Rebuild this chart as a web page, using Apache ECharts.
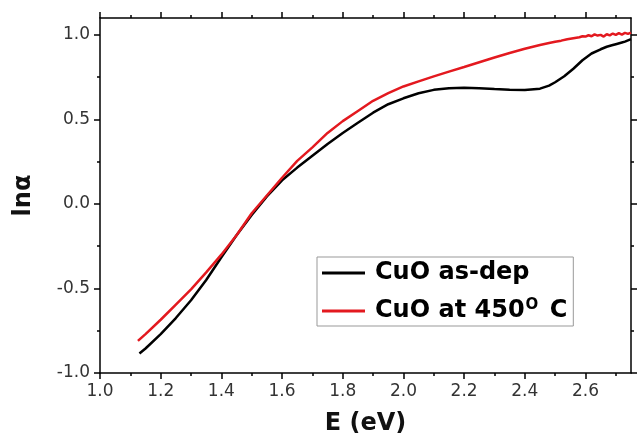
<!DOCTYPE html>
<html>
<head>
<meta charset="utf-8">
<script src="https://cdn.jsdelivr.net/npm/echarts@6/dist/echarts.min.js"></script>
<style>html,body{margin:0;padding:0;background:#fff}#c{width:637px;height:433px}</style>
</head>
<body>
<div id="c"></div>
<script>
// ---- data ----
const seriesNames = ['CuO as-dep', 'CuO at 450O C'];
const eAsDep = [1.13,1.15,1.20,1.25,1.30,1.35,1.40,1.45,1.50,1.55,1.60,1.65,1.70,1.75,1.80,1.85,1.90,1.95,2.00,2.05,2.10,2.15,2.20,2.25,2.30,2.35,2.40,2.45,2.48,2.50,2.53,2.56,2.59,2.62,2.65,2.67,2.69,2.70,2.72,2.73,2.75];
const lnAsDep = [-0.885,-0.855,-0.77,-0.675,-0.57,-0.45,-0.315,-0.185,-0.065,0.045,0.14,0.215,0.285,0.355,0.42,0.48,0.54,0.59,0.625,0.655,0.675,0.685,0.688,0.685,0.68,0.676,0.674,0.682,0.70,0.72,0.755,0.80,0.85,0.89,0.915,0.93,0.94,0.945,0.955,0.96,0.975];
const eAnnealed = [1.125,1.15,1.20,1.25,1.30,1.35,1.40,1.45,1.50,1.55,1.60,1.65,1.70,1.75,1.80,1.85,1.90,1.95,2.00,2.05,2.10,2.15,2.20,2.25,2.30,2.35,2.40,2.45,2.48,2.50,2.52,2.54,2.56,2.58,2.59,2.60,2.61,2.62,2.63,2.64,2.65,2.66,2.67,2.68,2.69,2.70,2.71,2.72,2.73,2.74,2.75];
const lnAnnealed = [-0.81,-0.77,-0.685,-0.595,-0.505,-0.405,-0.30,-0.185,-0.055,0.05,0.155,0.255,0.335,0.42,0.49,0.55,0.61,0.655,0.695,0.725,0.755,0.783,0.81,0.838,0.866,0.893,0.918,0.94,0.952,0.96,0.966,0.974,0.98,0.986,0.992,0.99,0.998,0.992,1.003,0.996,1.0,0.99,1.004,0.997,1.008,1.0,1.01,1.002,1.012,1.006,1.014];
const xMajorTicks = [1.0,1.2,1.4,1.6,1.8,2.0,2.2,2.4,2.6];
const xMinorTicks = [1.1,1.3,1.5,1.7,1.9,2.1,2.3,2.5,2.7];
const yMajorTicks = [-1.0,-0.5,0.0,0.5,1.0];
const yMinorTicks = [-0.75,-0.25,0.25,0.75];

// ---- chart ----
const FONT = 'DejaVu Sans';
const X_MIN = 1.0, X_MAX = 2.75, Y_MIN = -1.0, Y_MAX = 1.1;
const lineStyle = {color:'#000', width:1.5};

function axis(kind, position, ticks, len, opts) {
  const a = {
    type:'value', position: position,
    min: kind==='x'?X_MIN:Y_MIN, max: kind==='x'?X_MAX:Y_MAX,
    splitLine:{show:false},
    axisLine:{show: !!opts.line, onZero:false, lineStyle: lineStyle},
    axisTick:{show:true, inside:false, length:len, customValues: ticks, lineStyle: lineStyle},
    axisLabel:{show:false}
  };
  if (opts.labels) {
    a.axisLabel = {show:true, customValues: ticks, margin:10, color:'#333', fontFamily:FONT, fontSize:17,
      formatter: v => Number(v).toFixed(1)};
  }
  return a;
}

const xAxes = [
  axis('x','bottom',xMajorTicks,6,{line:true,labels:true}),
  axis('x','bottom',xMinorTicks,3,{}),
  axis('x','top',xMajorTicks,6,{line:true}),
  axis('x','top',xMinorTicks,3,{})
];
Object.assign(xAxes[0], {name:'E (eV)', nameLocation:'middle', nameGap:39,
  nameTextStyle:{fontFamily:FONT, fontWeight:'bold', fontSize:24, color:'#111'}});
const yAxes = [
  axis('y','left',yMajorTicks,6,{line:true,labels:true}),
  axis('y','left',yMinorTicks,3,{}),
  axis('y','right',yMajorTicks,6,{line:true}),
  axis('y','right',yMinorTicks,3,{})
];
Object.assign(yAxes[0], {name:'lnα', nameLocation:'middle', nameGap:64, nameRotate:90,
  nameTextStyle:{fontFamily:FONT, fontWeight:'bold', fontSize:24, color:'#111'}});

const chart = echarts.init(document.getElementById('c'), null, {renderer:'canvas'});
chart.setOption({
  animation:false,
  backgroundColor:'#fff',
  grid:{left:100, right:6, top:18, bottom:60, containLabel:false, outerBoundsMode:'none'},
  xAxis:xAxes,
  yAxis:yAxes,
  legend:{
    orient:'vertical', left:317, top:257,
    padding:[4,6,3,5], itemGap:13, itemWidth:43, itemHeight:3,
    borderColor:'#999', borderWidth:1, backgroundColor:'#fff',
    data: seriesNames.map(n => ({name:n, icon:'rect'})),
    formatter: n => n === seriesNames[1] ? '{t|CuO at 450}{s|O}{t| C}' : '{t|' + n + '}',
    textStyle:{
      padding:[0,0,0,5],
      rich:{
        t:{fontFamily:FONT, fontWeight:'bold', fontSize:24, color:'#000', lineHeight:26},
        s:{fontFamily:FONT, fontWeight:'bold', fontSize:15, color:'#000', padding:[0,3,11,1]}
      }
    }
  },
  series:[
    {name:seriesNames[0], type:'line', symbol:'none', xAxisIndex:0, yAxisIndex:0,
     lineStyle:{color:'#000', width:2.5}, itemStyle:{color:'#000'},
     data: eAsDep.map((e,i) => [e, lnAsDep[i]])},
    {name:seriesNames[1], type:'line', symbol:'none', xAxisIndex:0, yAxisIndex:0,
     lineStyle:{color:'#e3191f', width:2.5}, itemStyle:{color:'#e3191f'},
     data: eAnnealed.map((e,i) => [e, lnAnnealed[i]])}
  ]
});
</script>
</body>
</html>
